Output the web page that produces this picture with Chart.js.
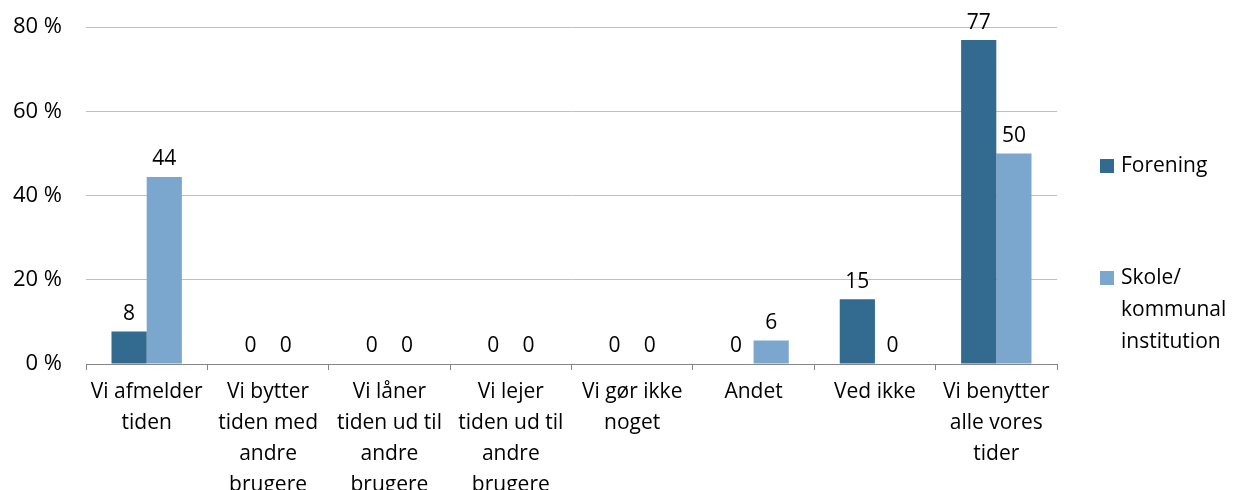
<!DOCTYPE html>
<html>
<head>
<meta charset="utf-8">
<script src="https://cdn.jsdelivr.net/npm/chart.js@4"></script>
<style>
  html, body { margin: 0; padding: 0; background: #fff; }
  #wrap { width: 1240px; height: 490px; }
</style>
</head>
<body>
<div id="wrap"><canvas id="chart" width="1240" height="490"></canvas></div>
<script>
const categories = [
    ['Vi afmelder', 'tiden'],
    ['Vi bytter', 'tiden med', 'andre', 'brugere'],
    ['Vi låner', 'tiden ud til', 'andre', 'brugere'],
    ['Vi lejer', 'tiden ud til', 'andre', 'brugere'],
    ['Vi gør ikke', 'noget'],
    ['Andet'],
    ['Ved ikke'],
    ['Vi benytter', 'alle vores', 'tider']
];
const forening = [7.7, 0, 0, 0, 0, 0, 15.4, 76.9];
const skole = [44.4, 0, 0, 0, 0, 5.6, 0, 50];
const seriesNames = [['Forening'], ['Skole/', 'kommunal', 'institution']];
const yTicks = [0, 20, 40, 60, 80];

const FONT = '"Open Sans", sans-serif';
const textColor = '#000';

const valueLabels = {
    id: 'valueLabels',
    afterDatasetsDraw(chart) {
        const ctx = chart.ctx;
        ctx.save();
        ctx.font = '21px ' + FONT;
        ctx.fillStyle = textColor;
        ctx.textAlign = 'center';
        ctx.textBaseline = 'bottom';
        chart.data.datasets.forEach((ds, i) => {
            chart.getDatasetMeta(i).data.forEach((bar, j) => {
                ctx.fillText(String(Math.round(ds.data[j])), bar.x, bar.y - 7);
            });
        });
        ctx.restore();
    }
};

const sideLegend = {
    id: 'sideLegend',
    afterDraw(chart) {
        const ctx = chart.ctx;
        const tops = [166, 278];
        ctx.save();
        ctx.font = '21px ' + FONT;
        ctx.textBaseline = 'middle';
        ctx.textAlign = 'left';
        chart.data.datasets.forEach((ds, i) => {
            const y = tops[i];
            ctx.fillStyle = ds.backgroundColor;
            ctx.fillRect(1100, y - 7, 14, 14);
            ctx.fillStyle = textColor;
            seriesNames[i].forEach((line, k) => {
                ctx.fillText(line, 1121, y + k * 32);
            });
        });
        ctx.restore();
    }
};

const ctx = document.getElementById('chart').getContext('2d');
new Chart(ctx, {
    type: 'bar',
    data: {
        labels: categories,
        datasets: [{
            label: 'Forening',
            data: forening,
            backgroundColor: '#336a90',
            borderWidth: 0,
            categoryPercentage: 0.58,
            barPercentage: 1
        }, {
            label: 'Skole/ kommunal institution',
            data: skole,
            backgroundColor: '#7ba7ce',
            borderWidth: 0,
            categoryPercentage: 0.58,
            barPercentage: 1
        }]
    },
    options: {
        responsive: false,
        animation: false,
        layout: { padding: { top: 0, right: 183, left: 0, bottom: 0 } },
        plugins: {
            legend: { display: false },
            tooltip: { enabled: false }
        },
        scales: {
            x: {
                grid: {
                    offset: true,
                    drawOnChartArea: false,
                    drawTicks: true,
                    tickLength: 6,
                    color: '#868686'
                },
                border: { color: '#868686', width: 1 },
                ticks: {
                    color: textColor,
                    font: { family: FONT, size: 21, lineHeight: 1.47 },
                    maxRotation: 0,
                    autoSkip: false,
                    padding: 7
                },
                afterFit(scale) { scale.height = 126; }
            },
            y: {
                min: 0,
                max: 80,
                afterBuildTicks(scale) { scale.ticks = yTicks.map(v => ({ value: v })); },
                grid: { color: '#c0c0c0', drawTicks: false },
                border: { display: false },
                ticks: {
                    color: textColor,
                    font: { family: FONT, size: 22 },
                    padding: 24,
                    callback: v => v + ' %'
                },
                afterFit(scale) {
                    scale.width = 86;
                    scale.paddingTop = 27;
                }
            }
        }
    },
    plugins: [valueLabels, sideLegend]
});
</script>
</body>
</html>
